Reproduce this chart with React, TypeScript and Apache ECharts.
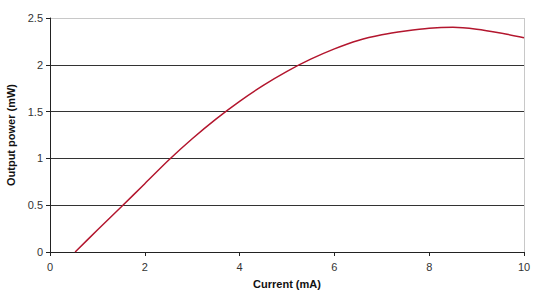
import React, { useEffect, useRef } from "react";
import * as echarts from "echarts";

const currentMA = [0.53, 1.0, 1.5, 2.0, 2.5, 3.0, 3.5, 4.0, 4.5, 5.0, 5.5, 6.0, 6.5, 7.0, 7.5, 8.0, 8.5, 9.0, 9.5, 10.0];
const powerMW = [0, 0.235, 0.48, 0.73, 0.98, 1.21, 1.42, 1.61, 1.78, 1.93, 2.06, 2.17, 2.26, 2.32, 2.36, 2.39, 2.4, 2.38, 2.34, 2.29];

const xTitle = "Current (mA)";
const yTitle = "Output power (mW)";

export default function App() {
  const ref = useRef<HTMLDivElement>(null);
  useEffect(() => {
    const chart = echarts.init(ref.current!, null, { renderer: "svg" });
    const font = "'Liberation Sans', Arial, sans-serif";
    chart.setOption({
      animation: false,
      backgroundColor: "#ffffff",
      grid: { left: 50, right: 14, top: 18, bottom: 46, containLabel: false, outerBoundsMode: "none" },
      xAxis: {
        type: "value",
        min: 0,
        max: 10,
        interval: 2,
        name: xTitle,
        nameLocation: "middle",
        nameGap: 26,
        nameTextStyle: { fontFamily: font, fontSize: 11, fontWeight: "bold", color: "#111" },
        axisLine: { show: true, onZero: false, lineStyle: { color: "#222", width: 1 } },
        axisTick: { show: true, length: 4, lineStyle: { color: "#222" } },
        axisLabel: { fontFamily: font, fontSize: 11, color: "#333", margin: 9 },
        splitLine: {
          show: true,
          lineStyle: { color: ["transparent", "transparent", "transparent", "transparent", "transparent", "#c8c8c8"], width: 1 },
        },
      },
      yAxis: {
        type: "value",
        min: 0,
        max: 2.5,
        interval: 0.5,
        name: yTitle,
        nameLocation: "middle",
        nameGap: 31,
        nameTextStyle: { fontFamily: font, fontSize: 11, fontWeight: "bold", color: "#111" },
        axisLine: { show: true, lineStyle: { color: "#222", width: 1 } },
        axisTick: { show: true, length: 4, lineStyle: { color: "#222" } },
        axisLabel: {
          fontFamily: font,
          fontSize: 11,
          color: "#333",
          margin: 7,
          formatter: (v: number) => String(v),
        },
        splitLine: {
          show: true,
          lineStyle: { color: ["#333", "#333", "#333", "#333", "#333", "#c8c8c8"], width: 1 },
        },
      },
      series: [
        {
          type: "line",
          data: currentMA.map((x, i) => [x, powerMW[i]]),
          smooth: 0.25,
          showSymbol: false,
          lineStyle: { color: "#b3162e", width: 1.5 },
        },
      ],
    });
    return () => chart.dispose();
  }, []);
  return (
    <div
      ref={ref}
      style={{ position: "fixed", left: 0, top: 0, width: 538, height: 298 }}
    />
  );
}
